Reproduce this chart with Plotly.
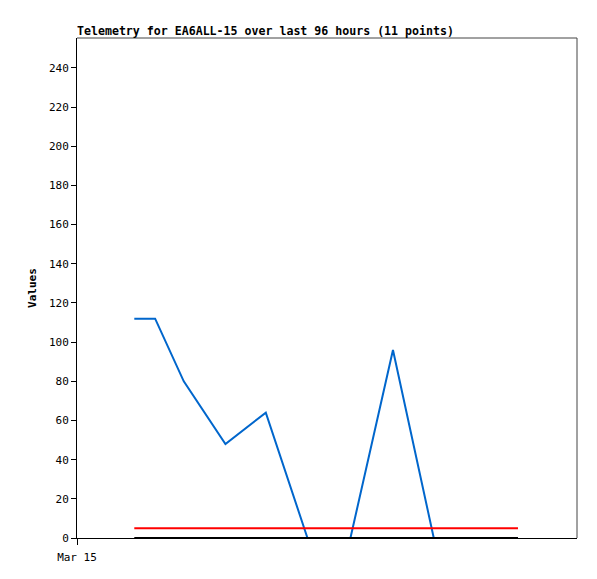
import plotly.graph_objects as go

times = ["2024-03-15 11:00", "2024-03-15 15:00", "2024-03-15 20:30", "2024-03-16 04:30",
         "2024-03-16 12:15", "2024-03-16 20:15", "2024-03-17 04:30", "2024-03-17 12:40",
         "2024-03-17 20:30", "2024-03-18 04:35", "2024-03-18 12:40"]
values = [112, 112, 80, 48, 64, 0, 0, 96, 0, 0, 0]
threshold = [5] * len(times)
baseline = [0] * len(times)
title = "Telemetry for EA6ALL-15 over last 96 hours (11 points)"
y_ticks = [0, 20, 40, 60, 80, 100, 120, 140, 160, 180, 200, 220, 240]
x_range = ["2024-03-15 00:00", "2024-03-19 00:00"]

mono = "DejaVu Sans Mono"
W, H = 589, 571
fig = go.Figure()
fig.add_trace(go.Scatter(x=times, y=values, mode="lines", line=dict(color="#0066cc", width=2)))
fig.add_trace(go.Scatter(x=times, y=threshold, mode="lines", line=dict(color="#ff0000", width=2)))
fig.add_trace(go.Scatter(x=times, y=baseline, mode="lines", line=dict(color="#000000", width=2)))

fig.update_layout(
    width=W, height=H,
    margin=dict(l=69, r=20, t=30, b=41),
    paper_bgcolor="white", plot_bgcolor="white",
    showlegend=False,
    title=dict(text="<b>" + title + "</b>", x=69/W, xanchor="left", y=1 - 23/H, yanchor="middle",
               font=dict(family=mono, size=11.6, color="black")),
    font=dict(family=mono, size=11, color="black"),
)
fig.update_xaxes(type="date", range=x_range, tickvals=[x_range[0]], ticktext=["Mar 15"],
                 showgrid=False, zeroline=False, showline=True, linecolor="black", linewidth=1,
                 automargin=False, ticklabelstandoff=3,
                 ticks="outside", ticklen=6, tickcolor="black", tickfont=dict(family=mono, size=11))
fig.update_yaxes(range=[0, 255.3], tickvals=y_ticks, showgrid=False, zeroline=False,
                 showline=True, linecolor="black", linewidth=1, automargin=False,
                 ticks="outside", ticklen=5, tickcolor="black", tickfont=dict(family=mono, size=11),
                 title=dict(text="<b>Values</b>", font=dict(family=mono, size=11), standoff=10))
fig.add_shape(type="line", xref="paper", yref="paper", x0=0, x1=1, y0=1, y1=1,
              line=dict(color="#444444", width=1))
fig.add_shape(type="line", xref="paper", yref="paper", x0=1, x1=1, y0=0, y1=1,
              line=dict(color="#444444", width=1))
fig.write_html("out.html")
